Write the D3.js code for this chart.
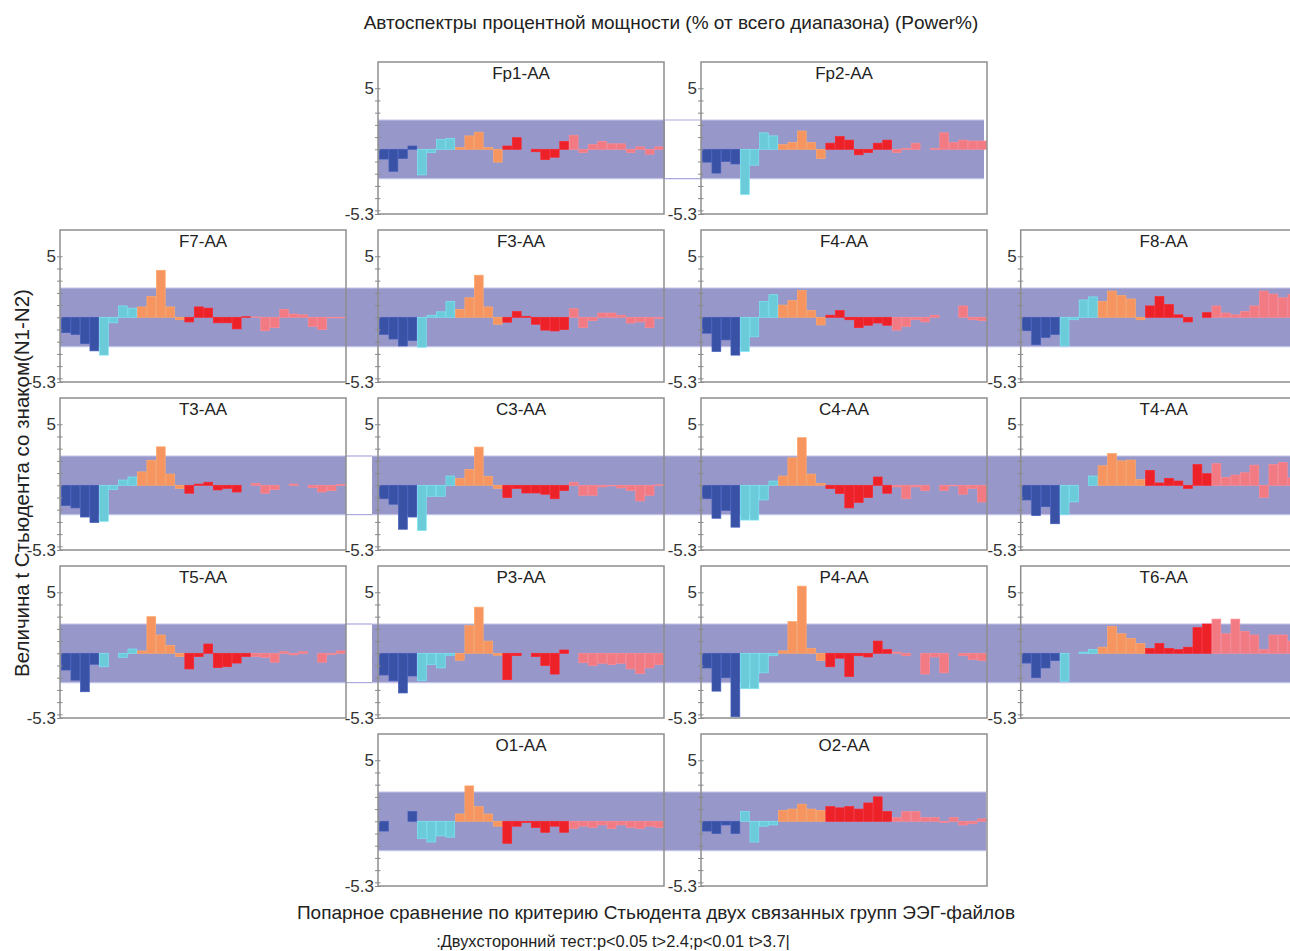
<!DOCTYPE html>
<html>
<head>
<meta charset="utf-8">
<script src="https://cdn.jsdelivr.net/npm/d3@7"></script>
<style>
  body { margin: 0; background: #fff; }
  svg { display: block; }
  text { font-family: "Liberation Sans", Arial, sans-serif; }
</style>
</head>
<body>
<svg id="chart"></svg>
<script>
// frequency bins, Hz
const bins = d3.range(1, 31);
const rhythmOf = (f) => (f <= 4 ? "delta" : f <= 8 ? "theta" : f <= 13 ? "alpha" : f <= 20 ? "beta1" : "beta2");

// t values per lead (N1-N2)
const fp1 = [-0.8, -1.8, -0.75, 0.27, -2.1, -0.27, 0.8, 0.9, 0.15, 1.1, 1.4, 0.15, -1.05, 0.27, 0.95, 0, -0.2, -0.85, -0.65, 0.65, 1.15, -0.27, 0.38, 0.65, 0.45, 0.45, -0.27, 0.2, -0.4, 0.2];
const fp2 = [-1.05, -1.95, -1.0, -1.2, -3.7, -1.3, 1.35, 1.1, 0.38, 0.57, 1.5, 0.55, -0.75, 0.5, 1.05, 0.75, -0.45, -0.27, 0.5, 0.75, -0.27, 0.08, 0.5, 0, 0.08, 1.35, 0.57, 0.75, 0.68, 0.68];
const f7 = [-1.25, -1.4, -2.15, -2.75, -3.1, -0.45, 0.93, 0.75, 0.85, 1.7, 3.85, 0.85, -0.2, -0.38, 0.85, 0.75, -0.45, -0.45, -0.95, 0.05, 0.03, -1.1, -0.85, 0.65, 0.27, 0.2, -0.75, -1.0, -0.05, -0.05];
const f3 = [-1.4, -1.78, -2.35, -1.9, -2.45, 0.17, 0.45, 1.3, 0.65, 1.6, 3.45, 0.85, -0.57, -0.4, 0.47, 0.08, -0.57, -1.05, -1.12, -1.0, 0.7, -0.85, -0.27, 0.35, 0.35, 0.17, -0.47, -0.38, -0.85, -0.1];
const f4 = [-1.3, -2.8, -1.85, -3.1, -2.8, -1.6, 1.3, 1.85, 1.0, 1.37, 2.2, 0.55, -0.63, 0.17, 0.55, -0.2, -0.85, -0.65, -0.47, -0.65, -1.05, -0.75, -0.2, -0.38, 0.17, 0, 0, 0.93, -0.2, -0.27];
const f8 = [-1.1, -2.25, -1.65, -1.4, -2.35, -0.2, 1.42, 1.67, 1.3, 2.15, 1.78, 1.5, -0.2, 0.93, 1.7, 1.04, 0.2, -0.38, 0, 0.38, 0.93, 0.35, 0.2, 0.47, 0.93, 2.15, 1.9, 1.6, 1.85, 1.8];
const t3 = [-1.65, -1.85, -2.6, -3.05, -2.95, -0.35, 0.43, 0.68, 1.1, 2.05, 3.15, 0.92, -0.25, -0.65, 0.1, 0.25, -0.38, -0.25, -0.55, 0, 0.15, -0.65, -0.35, 0, 0.1, 0, -0.2, -0.55, -0.43, 0.08];
const c3 = [-1.1, -1.55, -3.6, -2.6, -3.7, -0.9, -0.9, 0.76, 0.55, 1.3, 3.13, 0.73, -0.25, -1.0, -0.25, -0.63, -0.63, -0.73, -1.1, -0.43, 0.25, -0.82, -0.82, -0.13, -0.05, -0.22, -0.43, -1.28, -0.82, 0.05];
const c4 = [-1.1, -2.7, -2.05, -3.43, -2.85, -2.85, -1.2, 0.35, 0.76, 2.25, 3.9, 0.92, 0.16, -0.27, -0.68, -1.85, -1.4, -1.0, 0.68, -0.65, -0.13, -1.1, -0.13, -0.43, 0, -0.43, -0.05, -0.73, -0.25, -1.37];
const t4 = [-1.2, -2.48, -1.75, -3.15, -2.4, -1.36, 0, 0.76, 1.6, 2.6, 2.0, 2.07, 0.46, 1.22, 0.19, 0.57, 0.35, -0.25, 1.7, 0.95, 1.77, 0.65, 0.84, 1.03, 1.65, -1.0, 1.7, 1.87, 0.6, 1.5];
const t5 = [-1.37, -2.2, -3.15, -0.9, -1.1, 0, -0.33, 0.35, 0.19, 3.0, 1.5, 0.65, -0.27, -1.28, -0.27, 0.76, -1.17, -1.1, -0.8, -0.27, -0.27, -0.33, -0.73, 0.13, -0.13, 0.13, 0, -0.73, -0.1, 0.19];
const p3 = [-1.78, -2.25, -3.25, -1.86, -2.25, -0.93, -1.2, -0.16, -0.57, 2.27, 3.78, 1.0, -0.16, -2.16, -0.19, 0, -0.27, -1.0, -1.7, 0.27, 0, -0.77, -1.0, -0.82, -0.93, -0.82, -1.28, -1.67, -1.2, -0.93];
const p4 = [-1.2, -3.1, -2.0, -5.2, -2.9, -2.9, -1.6, -0.2, 0.2, 2.6, 5.5, 0.4, -0.6, -1.1, -0.4, -1.9, -0.2, -0.3, 1.0, 0.3, 0.1, -0.2, 0, -1.7, -0.3, -1.6, 0, -0.2, -0.5, -0.6];
const t6 = [-0.8, -2.0, -1.2, -0.6, -2.3, 0, 0.1, 0.3, 0.5, 2.2, 1.6, 1.2, 0.8, 0.4, 0.8, 0.4, 0.3, 0.5, 2.1, 2.4, 2.8, 1.6, 2.8, 1.8, 1.5, 0.3, 1.5, 1.5, 1.0, 1.0];
const o1 = [-0.8, 0, 0, 0.8, -1.4, -1.7, -1.2, -1.3, 0.6, 2.9, 1.2, 0.6, -0.4, -1.8, -0.4, -0.1, -0.5, -0.9, -0.4, -0.9, -0.6, -0.4, -0.5, -0.3, -0.6, -0.3, -0.5, -0.6, -0.4, -0.5];
const o2 = [-0.8, -1.0, -0.3, -1.0, 0.8, -1.7, -0.4, -0.3, 0.9, 1.0, 1.4, 1.0, 0.9, 1.2, 1.1, 1.2, 1.0, 1.5, 2.0, 0.8, 0.3, 0.8, 0.8, 0.3, 0.3, -0.1, 0.3, -0.3, -0.2, 0.2];

const leadNames = ["Fp1", "Fp2", "F7", "F3", "F4", "F8", "T3", "C3", "C4", "T4", "T5", "P3", "P4", "T6", "O1", "O2"];
const leadValues = [fp1, fp2, f7, f3, f4, f8, t3, c3, c4, t4, t5, p3, p4, t6, o1, o2];
const gridCol = [1, 2, 0, 1, 2, 3, 0, 1, 2, 3, 0, 1, 2, 3, 1, 2];
const gridRow = [0, 0, 1, 1, 1, 1, 2, 2, 2, 2, 3, 3, 3, 3, 4, 4];

const tCrit = 2.4; // p<0.05
const yTop = 7.15;
const yBottom = -5.3;

const colors = {
  delta: "#3a52a6",
  theta: "#6ccbd8",
  alpha: "#f6955f",
  beta1: "#ed2128",
  beta2: "#f17a83",
};

const w = 1290;
const h = 951;
const colX = [60, 378, 701, 1020.7];
const rowY = [62, 230, 398, 566, 734];
const pw = 286;
const ph = 152;

// significance band segments per row (filled) and open gaps (outlined)
const bandFill = [
  [[378, 665], [701, 984]],
  [[60, 1290]],
  [[60, 346], [372, 1290]],
  [[60, 346], [372, 1290]],
  [[378, 986]],
];
const bandOpen = [[[665, 701]], [], [[346, 372]], [[346, 372]], []];

const svg = d3.select("#chart").attr("width", w).attr("height", h);

const yScale = d3.scaleLinear().domain([yBottom, yTop]).range([ph, 0]);
const xScale = d3.scaleBand().domain(bins).range([1.5, pw - 0.5]).paddingInner(0.07);

// bands behind everything
rowY.forEach((ry, r) => {
  const y0 = ry + yScale(tCrit);
  const y1 = ry + yScale(-tCrit);
  bandFill[r].forEach(([a, b]) => {
    svg.append("rect")
      .attr("x", a).attr("y", y0)
      .attr("width", b - a).attr("height", y1 - y0)
      .style("fill", "#9797c9");
    svg.append("line").attr("x1", a).attr("x2", b).attr("y1", y0).attr("y2", y0)
      .style("stroke", "#c3c3ea").style("stroke-width", 1.2);
    svg.append("line").attr("x1", a).attr("x2", b).attr("y1", y1).attr("y2", y1)
      .style("stroke", "#c3c3ea").style("stroke-width", 1.2);
  });
  bandOpen[r].forEach(([a, b]) => {
    svg.append("line").attr("x1", a).attr("x2", b).attr("y1", y0).attr("y2", y0)
      .style("stroke", "#a9a9dc").style("stroke-width", 1.2);
    svg.append("line").attr("x1", a).attr("x2", b).attr("y1", y1).attr("y2", y1)
      .style("stroke", "#a9a9dc").style("stroke-width", 1.2);
  });
});

// panels
leadNames.forEach((name, i) => {
  const vals = leadValues[i];
  const data = bins.map((f, k) => ({ f: f, v: vals[k] })).filter((d) => d.v !== 0);
  const g = svg.append("g")
    .attr("transform", `translate(${colX[gridCol[i]]}, ${rowY[gridRow[i]]})`);

  g.selectAll("rect.bar")
    .data(data)
    .enter()
    .append("rect")
    .attr("class", "bar")
    .attr("x", (d) => xScale(d.f))
    .attr("width", xScale.bandwidth())
    .attr("y", (d) => yScale(Math.max(0, d.v)))
    .attr("height", (d) => Math.abs(yScale(d.v) - yScale(0)))
    .style("fill", (d) => colors[rhythmOf(d.f)])
    .style("stroke", (d) => d3.color(colors[rhythmOf(d.f)]).brighter(0.35))
    .style("stroke-width", 0.7);

  // frame
  g.append("rect")
    .attr("x", 0).attr("y", 0).attr("width", pw).attr("height", ph)
    .style("fill", "none")
    .style("stroke", "#8e8e8e")
    .style("stroke-width", 1.5);

  // y axis
  const yAxis = d3.axisLeft(yScale)
    .tickValues([yBottom].concat(d3.range(-5, 6)))
    .tickSize(3)
    .tickPadding(1)
    .tickFormat((d) => (d === 5 ? "5" : d === yBottom ? "-5.3" : ""));
  g.append("g")
    .call(yAxis)
    .call((a) => a.select(".domain").remove())
    .call((a) => a.selectAll(".tick line").attr("x1", 2.5).attr("x2", -3).style("stroke", "#8a8a8a"))
    .call((a) => a.selectAll(".tick text")
      .style("font-size", "17px")
      .style("fill", "#333")
      .style("font-family", '"Liberation Sans", Arial, sans-serif'));

  g.append("text")
    .attr("x", pw / 2)
    .attr("y", 17)
    .attr("text-anchor", "middle")
    .style("font-size", "17px")
    .style("fill", "#222")
    .text(`${name}-AA`);
});

// titles
svg.append("text")
  .attr("x", 671).attr("y", 29)
  .attr("text-anchor", "middle")
  .style("font-size", "19px").style("fill", "#222")
  .text("Автоспектры процентной мощности (% от всего диапазона) (Power%)");

svg.append("text")
  .attr("transform", "translate(29, 483) rotate(-90)")
  .attr("text-anchor", "middle")
  .style("font-size", "20.5px").style("fill", "#222")
  .text("Величина t Стьюдента со знаком(N1-N2)");

svg.append("text")
  .attr("x", 656).attr("y", 919)
  .attr("text-anchor", "middle")
  .style("font-size", "19px").style("fill", "#222")
  .text("Попарное сравнение по критерию Стьюдента двух связанных групп ЭЭГ-файлов");

svg.append("text")
  .attr("x", 613).attr("y", 947)
  .attr("text-anchor", "middle")
  .style("font-size", "16.4px").style("fill", "#222")
  .text(":Двухсторонний тест:p<0.05 t>2.4;p<0.01 t>3.7|");
</script>
</body>
</html>
